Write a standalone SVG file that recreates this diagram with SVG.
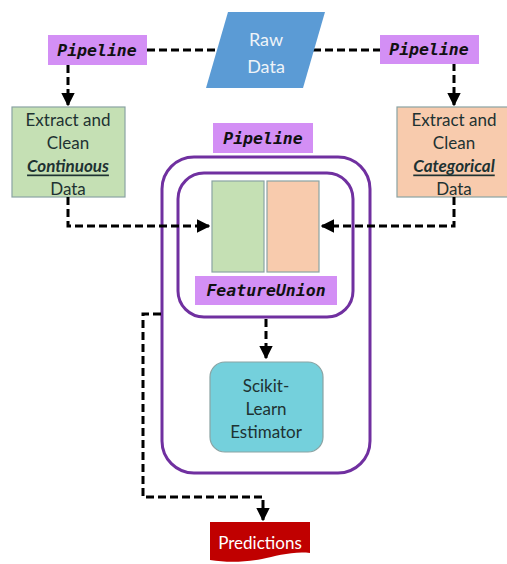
<svg xmlns="http://www.w3.org/2000/svg" width="507" height="564" viewBox="0 0 507 564">
<defs>
<marker id="ah" viewBox="0 0 10 10" refX="9" refY="5" markerWidth="4.6" markerHeight="4.6" markerUnits="strokeWidth" orient="auto">
<path d="M0,0 L10,5 L0,10 Z" fill="#000"/>
</marker>
<style>
.lbl{fill:#d38ff5}
.mono{font-family:"DejaVu Sans Mono","Liberation Mono",monospace;font-weight:bold;font-style:italic;font-size:16.5px;fill:#111;text-anchor:middle;dominant-baseline:central}
.t{font-family:Lato,"Open Sans",sans-serif;font-size:17px;fill:#1e3232;text-anchor:middle;dominant-baseline:central}
.em{font-weight:bold;font-style:italic;text-decoration:underline}
.dash{fill:none;stroke:#000;stroke-width:3;stroke-dasharray:8,4}
.frame{fill:#fff;stroke:#7030a0;stroke-width:3}
.box{stroke:#8aa3a3;stroke-width:1.2}
</style>
</defs>
<rect width="507" height="564" fill="#fff"/>
<g id="connectors">
<line class="dash" x1="147" y1="50" x2="218" y2="50"/>
<line class="dash" x1="313" y1="50" x2="380" y2="50"/>
<path class="dash" d="M68,65 V105" marker-end="url(#ah)"/>
<path class="dash" d="M454,63 V105" marker-end="url(#ah)"/>
</g>
<g id="raw-data">
<polygon points="228,12 325,12 303,88 206,88" fill="#5b9bd5"/>
<text class="t" x="266" y="39" style="fill:#eef3f8;font-size:18px">Raw</text>
<text class="t" x="266" y="66" style="fill:#eef3f8;font-size:18px">Data</text>
</g>
<g id="pipeline-left">
<rect class="lbl" x="48" y="35" width="99" height="30"/>
<text class="mono" x="97" y="50">Pipeline</text>
</g>
<g id="pipeline-right">
<rect class="lbl" x="380" y="35" width="99" height="29"/>
<text class="mono" x="429" y="49">Pipeline</text>
</g>
<g id="continuous">
<rect class="box" x="12" y="107" width="113" height="90" fill="#c5e0b4"/>
<text class="t" x="68" y="119">Extract and</text>
<text class="t" x="68" y="142">Clean</text>
<text class="t em" x="68" y="165">Continuous</text>
<text class="t" x="68" y="188">Data</text>
</g>
<g id="categorical">
<rect class="box" x="397" y="107" width="112" height="90" fill="#f8cbad"/>
<text class="t" x="454" y="119">Extract and</text>
<text class="t" x="454" y="142">Clean</text>
<text class="t em" x="454" y="165">Categorical</text>
<text class="t" x="454" y="188">Data</text>
</g>
<g id="pipeline-main">
<rect class="frame" x="162" y="157" width="208" height="316" rx="32"/>
<rect class="lbl" x="213" y="123" width="100" height="30"/>
<text class="mono" x="263" y="138">Pipeline</text>
</g>
<g id="feature-union">
<rect class="frame" x="178" y="173" width="175" height="144" rx="26"/>
<rect class="box" x="212" y="181" width="52" height="91" fill="#c5e0b4"/>
<rect class="box" x="267" y="181" width="52" height="91" fill="#f8cbad"/>
<rect class="lbl" x="195" y="276" width="142" height="29"/>
<text class="mono" x="266" y="290">FeatureUnion</text>
</g>
<g id="estimator">
<rect class="box" x="210" y="362" width="113" height="90" rx="15" fill="#74d0dc"/>
<text class="t" x="266" y="385">Scikit-</text>
<text class="t" x="266" y="408">Learn</text>
<text class="t" x="266" y="431">Estimator</text>
</g>
<g id="predictions">
<path d="M210,522 H310 V553 C293,551 276,556 262,559 C246,562 228,563 210,560 Z" fill="#c00000"/>
<text class="t" x="260" y="542" style="fill:#fff">Predictions</text>
</g>
<g id="connectors-2">
<path class="dash" d="M68,197 V226 H209" marker-end="url(#ah)"/>
<path class="dash" d="M454,197 V226 H322" marker-end="url(#ah)"/>
<path class="dash" d="M266,319 V358" marker-end="url(#ah)"/>
<path class="dash" d="M161,314 H143 V497 H263 V520" marker-end="url(#ah)"/>
</g>
</svg>
